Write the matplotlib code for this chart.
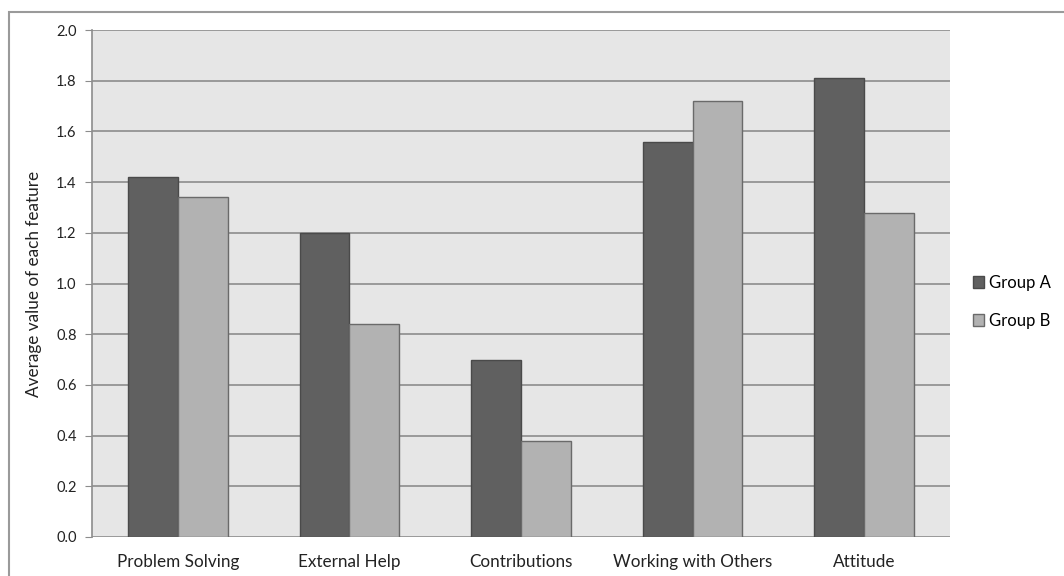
import matplotlib.pyplot as plt
import numpy as np
from matplotlib.patches import Rectangle, Patch

categories = ["Problem Solving", "External Help", "Contributions", "Working with Others", "Attitude"]
group_a = [1.42, 1.20, 0.70, 1.56, 1.81]
group_b = [1.34, 0.84, 0.38, 1.72, 1.28]

plt.rcParams["font.family"] = ["Lato", "DejaVu Sans"]

fig = plt.figure(figsize=(10.64, 5.76), dpi=100)
ax = fig.add_axes([92 / 1064, 39 / 576, 858 / 1064, 507 / 576])

# outer frame of the chart (clipped at right/bottom like the source)
fig.patches.append(Rectangle((9 / 1064, -0.1), 1.2, (576 - 12) / 576 + 0.1,
                             transform=fig.transFigure, fill=False,
                             edgecolor="#9a9a9a", linewidth=1.5))

x = np.arange(len(categories))
w = 0.29
ax.set_facecolor("#e6e6e6")
ax.bar(x - w / 2, group_a, w, color="#606060", edgecolor="#4a4a4a", linewidth=1.0, zorder=3, label="Group A")
ax.bar(x + w / 2, group_b, w, color="#b2b2b2", edgecolor="#6a6a6a", linewidth=1.0, zorder=3, label="Group B")

ax.set_xlim(-0.5, len(categories) - 0.5)
ax.set_ylim(0, 2.0)
ax.set_yticks(np.arange(0, 2.01, 0.2))
ax.set_yticklabels([f"{v:.1f}" for v in np.arange(0, 2.01, 0.2)], fontsize=10.5, color="#222222")
ax.yaxis.grid(True, color="#8c8c8c", linewidth=1.2, zorder=1)
ax.set_xticks(x)
ax.set_xticklabels(categories, fontsize=12.3, color="#222222")
ax.tick_params(axis="x", length=0, pad=12)
ax.tick_params(axis="y", length=5, color="#8c8c8c", pad=6)
for s in ["top", "right", "bottom"]:
    ax.spines[s].set_visible(False)
ax.spines["left"].set_color("#8c8c8c")
ax.spines["left"].set_linewidth(1.2)
ax.set_ylabel("Average value of each feature", fontsize=12.3, color="#222222", labelpad=10)

handles = [Patch(facecolor="#606060", edgecolor="#4a4a4a", label="Group A"),
           Patch(facecolor="#b2b2b2", edgecolor="#6a6a6a", label="Group B")]
fig.legend(handles=handles, loc="center left", bbox_to_anchor=(966 / 1064, 1 - 302 / 576),
           frameon=False, fontsize=12, handlelength=0.7, handleheight=0.7,
           handletextpad=0.3, labelspacing=1.3, borderaxespad=0)

fig.savefig("out.png", dpi=100)
